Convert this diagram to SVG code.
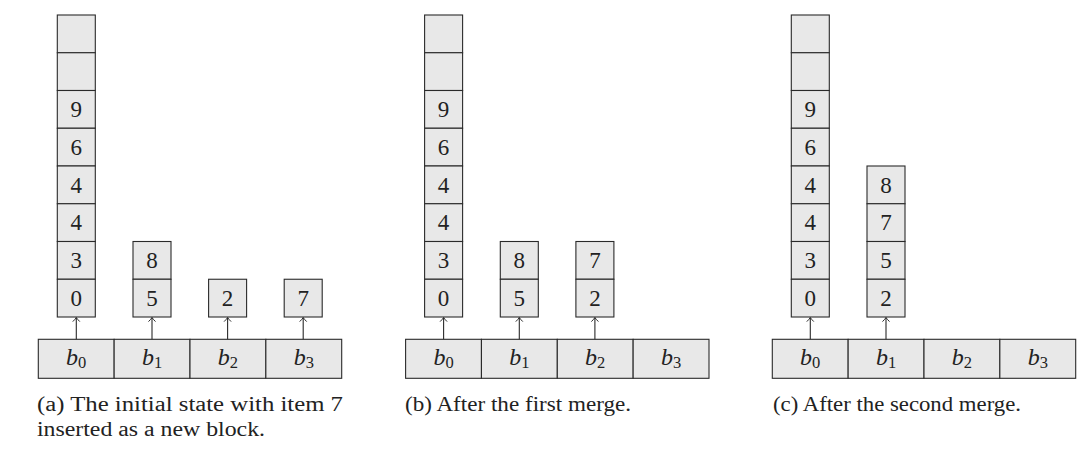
<svg xmlns="http://www.w3.org/2000/svg" width="1087" height="450" viewBox="0 0 1087 450">
<defs>
<style>
.c{fill:#e8e8e8;stroke:#2a2a2a;stroke-width:1.1}
.t{font-family:"Liberation Serif","Times New Roman",serif;font-size:23px;fill:#222;text-anchor:middle}
.b{font-family:"Liberation Serif","Times New Roman",serif;font-size:24px;font-style:italic;fill:#222;text-anchor:middle}
.s{font-style:normal;font-size:16.5px}
.cap{font-family:"Liberation Serif","Times New Roman",serif;font-size:20.5px;fill:#222}
.a{stroke:#2a2a2a;stroke-width:1.1;fill:none}
</style>
<marker id="ah" viewBox="0 0 10 10" refX="9" refY="5" markerWidth="10" markerHeight="10" markerUnits="userSpaceOnUse" orient="auto">
<path d="M5,1.5 Q7.5,4 9,5 Q7.5,6 5,8.5" fill="none" stroke="#2a2a2a" stroke-width="1"/>
</marker>
</defs>
<rect width="1087" height="450" fill="#fff"/>

<!-- Panel a -->
<g id="a-stack0">
<rect class="c" x="57.3" y="15" width="38" height="37.75"/>
<rect class="c" x="57.3" y="52.75" width="38" height="37.75"/>
<rect class="c" x="57.3" y="90.5" width="38" height="37.75"/>
<rect class="c" x="57.3" y="128.25" width="38" height="37.75"/>
<rect class="c" x="57.3" y="166" width="38" height="37.75"/>
<rect class="c" x="57.3" y="203.75" width="38" height="37.75"/>
<rect class="c" x="57.3" y="241.5" width="38" height="37.75"/>
<rect class="c" x="57.3" y="279.25" width="38" height="37.75"/>
<text class="t" x="76.3" y="117">9</text>
<text class="t" x="76.3" y="154.8">6</text>
<text class="t" x="76.3" y="192.5">4</text>
<text class="t" x="76.3" y="230.3">4</text>
<text class="t" x="76.3" y="268">3</text>
<text class="t" x="76.3" y="305.8">0</text>
</g>
<g id="a-stack1">
<rect class="c" x="133" y="241.5" width="38" height="37.75"/>
<rect class="c" x="133" y="279.25" width="38" height="37.75"/>
<text class="t" x="152" y="268">8</text>
<text class="t" x="152" y="305.8">5</text>
</g>
<g id="a-stack2">
<rect class="c" x="208.6" y="279.25" width="38" height="37.75"/>
<text class="t" x="227.6" y="305.8">2</text>
</g>
<g id="a-stack3">
<rect class="c" x="284.2" y="279.25" width="38" height="37.75"/>
<text class="t" x="303.2" y="305.8">7</text>
</g>
<g id="a-row">
<rect class="c" x="38.3" y="339.3" width="75.85" height="39"/>
<rect class="c" x="114.15" y="339.3" width="75.85" height="39"/>
<rect class="c" x="190" y="339.3" width="75.85" height="39"/>
<rect class="c" x="265.85" y="339.3" width="75.85" height="39"/>
<text class="b" x="76.2" y="365">b<tspan class="s" dy="3">0</tspan></text>
<text class="b" x="152" y="365">b<tspan class="s" dy="3">1</tspan></text>
<text class="b" x="227.9" y="365">b<tspan class="s" dy="3">2</tspan></text>
<text class="b" x="303.8" y="365">b<tspan class="s" dy="3">3</tspan></text>
</g>

<!-- Panel b -->
<g id="b-stack0">
<rect class="c" x="424.6" y="15" width="38" height="37.75"/>
<rect class="c" x="424.6" y="52.75" width="38" height="37.75"/>
<rect class="c" x="424.6" y="90.5" width="38" height="37.75"/>
<rect class="c" x="424.6" y="128.25" width="38" height="37.75"/>
<rect class="c" x="424.6" y="166" width="38" height="37.75"/>
<rect class="c" x="424.6" y="203.75" width="38" height="37.75"/>
<rect class="c" x="424.6" y="241.5" width="38" height="37.75"/>
<rect class="c" x="424.6" y="279.25" width="38" height="37.75"/>
<text class="t" x="443.6" y="117">9</text>
<text class="t" x="443.6" y="154.8">6</text>
<text class="t" x="443.6" y="192.5">4</text>
<text class="t" x="443.6" y="230.3">4</text>
<text class="t" x="443.6" y="268">3</text>
<text class="t" x="443.6" y="305.8">0</text>
</g>
<g id="b-stack1">
<rect class="c" x="500.3" y="241.5" width="38" height="37.75"/>
<rect class="c" x="500.3" y="279.25" width="38" height="37.75"/>
<text class="t" x="519.3" y="268">8</text>
<text class="t" x="519.3" y="305.8">5</text>
</g>
<g id="b-stack2">
<rect class="c" x="575.9" y="241.5" width="38" height="37.75"/>
<rect class="c" x="575.9" y="279.25" width="38" height="37.75"/>
<text class="t" x="594.9" y="268">7</text>
<text class="t" x="594.9" y="305.8">2</text>
</g>
<g id="b-row">
<rect class="c" x="405.6" y="339.3" width="75.85" height="39"/>
<rect class="c" x="481.45" y="339.3" width="75.85" height="39"/>
<rect class="c" x="557.3" y="339.3" width="75.85" height="39"/>
<rect class="c" x="633.15" y="339.3" width="75.85" height="39"/>
<text class="b" x="443.5" y="365">b<tspan class="s" dy="3">0</tspan></text>
<text class="b" x="519.3" y="365">b<tspan class="s" dy="3">1</tspan></text>
<text class="b" x="595.2" y="365">b<tspan class="s" dy="3">2</tspan></text>
<text class="b" x="671.1" y="365">b<tspan class="s" dy="3">3</tspan></text>
</g>

<!-- Panel c -->
<g id="c-stack0">
<rect class="c" x="791.3" y="15" width="38" height="37.75"/>
<rect class="c" x="791.3" y="52.75" width="38" height="37.75"/>
<rect class="c" x="791.3" y="90.5" width="38" height="37.75"/>
<rect class="c" x="791.3" y="128.25" width="38" height="37.75"/>
<rect class="c" x="791.3" y="166" width="38" height="37.75"/>
<rect class="c" x="791.3" y="203.75" width="38" height="37.75"/>
<rect class="c" x="791.3" y="241.5" width="38" height="37.75"/>
<rect class="c" x="791.3" y="279.25" width="38" height="37.75"/>
<text class="t" x="810.3" y="117">9</text>
<text class="t" x="810.3" y="154.8">6</text>
<text class="t" x="810.3" y="192.5">4</text>
<text class="t" x="810.3" y="230.3">4</text>
<text class="t" x="810.3" y="268">3</text>
<text class="t" x="810.3" y="305.8">0</text>
</g>
<g id="c-stack1">
<rect class="c" x="867" y="166" width="38" height="37.75"/>
<rect class="c" x="867" y="203.75" width="38" height="37.75"/>
<rect class="c" x="867" y="241.5" width="38" height="37.75"/>
<rect class="c" x="867" y="279.25" width="38" height="37.75"/>
<text class="t" x="886" y="192.5">8</text>
<text class="t" x="886" y="230.3">7</text>
<text class="t" x="886" y="268">5</text>
<text class="t" x="886" y="305.8">2</text>
</g>
<g id="c-row">
<rect class="c" x="772.3" y="339.3" width="75.85" height="39"/>
<rect class="c" x="848.15" y="339.3" width="75.85" height="39"/>
<rect class="c" x="924" y="339.3" width="75.85" height="39"/>
<rect class="c" x="999.85" y="339.3" width="75.85" height="39"/>
<text class="b" x="810.2" y="365">b<tspan class="s" dy="3">0</tspan></text>
<text class="b" x="886" y="365">b<tspan class="s" dy="3">1</tspan></text>
<text class="b" x="961.9" y="365">b<tspan class="s" dy="3">2</tspan></text>
<text class="b" x="1037.8" y="365">b<tspan class="s" dy="3">3</tspan></text>
</g>

<g id="connectors">
<line class="a" x1="76.3" y1="339.3" x2="76.3" y2="317.6" marker-end="url(#ah)"/>
<line class="a" x1="152" y1="339.3" x2="152" y2="317.6" marker-end="url(#ah)"/>
<line class="a" x1="227.6" y1="339.3" x2="227.6" y2="317.6" marker-end="url(#ah)"/>
<line class="a" x1="303.2" y1="339.3" x2="303.2" y2="317.6" marker-end="url(#ah)"/>
<line class="a" x1="443.6" y1="339.3" x2="443.6" y2="317.6" marker-end="url(#ah)"/>
<line class="a" x1="519.3" y1="339.3" x2="519.3" y2="317.6" marker-end="url(#ah)"/>
<line class="a" x1="594.9" y1="339.3" x2="594.9" y2="317.6" marker-end="url(#ah)"/>
<line class="a" x1="810.3" y1="339.3" x2="810.3" y2="317.6" marker-end="url(#ah)"/>
<line class="a" x1="886" y1="339.3" x2="886" y2="317.6" marker-end="url(#ah)"/>
</g>

<g id="captions">
<text class="cap" x="37" y="411" textLength="306" lengthAdjust="spacingAndGlyphs">(a) The initial state with item 7</text>
<text class="cap" x="37" y="436" textLength="228" lengthAdjust="spacingAndGlyphs">inserted as a new block.</text>
<text class="cap" x="405" y="411" textLength="226" lengthAdjust="spacingAndGlyphs">(b) After the first merge.</text>
<text class="cap" x="773" y="411" textLength="248" lengthAdjust="spacingAndGlyphs">(c) After the second merge.</text>
</g>
</svg>
